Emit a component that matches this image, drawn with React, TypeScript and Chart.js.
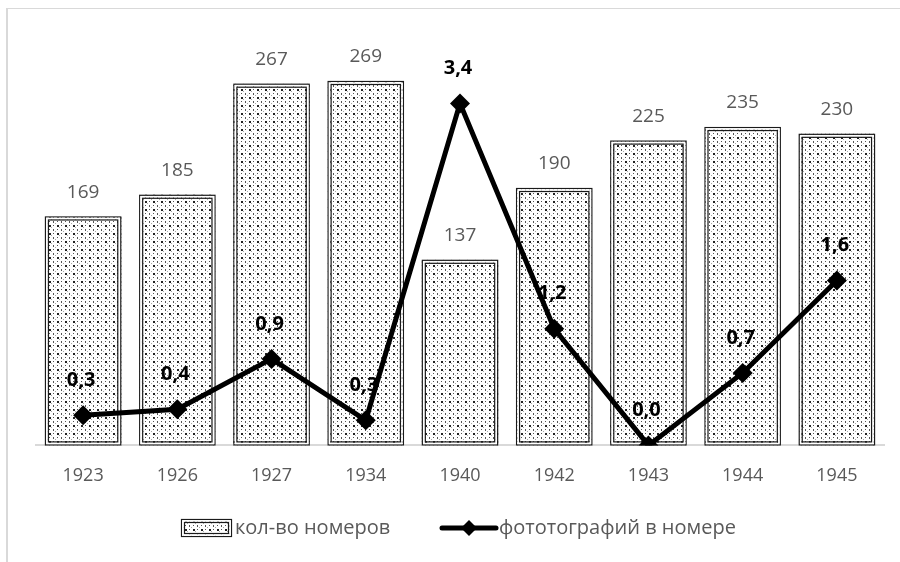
import React, { useEffect, useRef } from "react";
import { Chart, registerables } from "chart.js";

Chart.register(...registerables);

const years = ["1923", "1926", "1927", "1934", "1940", "1942", "1943", "1944", "1945"];
const issues = [169, 185, 267, 269, 137, 190, 225, 235, 230];
const photosPerIssue = [0.3, 0.36, 0.86, 0.25, 3.4, 1.16, 0.0, 0.72, 1.64];
const barLabel = "кол-во номеров";
const lineLabel = "фототографий в номере";

const FONT = "'Open Sans', 'Noto Sans', sans-serif";
const GRAY_TEXT = "#595959";

function makePattern(): CanvasPattern | string {
  const c = document.createElement("canvas");
  c.width = 8;
  c.height = 8;
  const g = c.getContext("2d");
  if (!g) return "#ddd";
  g.fillStyle = "#ffffff";
  g.fillRect(0, 0, 8, 8);
  g.fillStyle = "#222";
  g.fillRect(1, 1, 2, 2);
  g.fillStyle = "#555";
  g.fillRect(5, 5, 1, 2);
  g.fillRect(5, 1, 1, 1);
  g.fillRect(1, 5, 1, 1);
  g.fillStyle = "#aaa";
  g.fillRect(3, 3, 1, 1);
  g.fillRect(7, 7, 1, 1);
  const ctx = document.createElement("canvas").getContext("2d");
  const p = ctx ? ctx.createPattern(c, "repeat") : null;
  return p || "#ddd";
}

function fmt(v: number) {
  return (Math.round(v * 10) / 10).toFixed(1).replace(".", ",");
}

function doubleRect(ctx: CanvasRenderingContext2D, x: number, y: number, w: number, h: number) {
  ctx.save();
  ctx.strokeStyle = "#1a1a1a";
  ctx.lineWidth = 1.2;
  ctx.strokeRect(x + 0.5, y + 0.5, w - 1, h - 1);
  ctx.strokeStyle = "#ffffff";
  ctx.lineWidth = 1.5;
  ctx.strokeRect(x + 2, y + 2, w - 4, h - 4);
  ctx.strokeStyle = "#1a1a1a";
  ctx.lineWidth = 1.2;
  ctx.strokeRect(x + 3.5, y + 3.5, w - 7, h - 7);
  ctx.restore();
}

export default function App() {
  const ref = useRef<HTMLCanvasElement | null>(null);

  useEffect(() => {
    if (!ref.current) return;
    const pattern = makePattern();

    const decor = {
      id: "decor",
      beforeDraw(chart: any) {
        const ctx = chart.ctx;
        ctx.save();
        ctx.fillStyle = "#ffffff";
        ctx.fillRect(0, 0, chart.width, chart.height);
        ctx.fillStyle = "#d9d9d9";
        ctx.fillRect(6, 8, 2, chart.height - 8);
        ctx.fillRect(6, 8, chart.width - 6, 1);
        ctx.restore();
      },
      afterDatasetDraw(chart: any, args: any) {
        if (args.index !== 0) return;
        const ctx = chart.ctx;
        const meta = chart.getDatasetMeta(0);
        meta.data.forEach((bar: any) => {
          const w = bar.width;
          doubleRect(ctx, bar.x - w / 2, bar.y, w, bar.base - bar.y);
        });
      },
      afterDatasetsDraw(chart: any) {
        const ctx = chart.ctx;
        ctx.save();
        ctx.textAlign = "center";
        ctx.textBaseline = "middle";
        const bars = chart.getDatasetMeta(0).data;
        ctx.font = `19px ${FONT}`;
        ctx.fillStyle = GRAY_TEXT;
        bars.forEach((b: any, i: number) => {
          ctx.fillText(String(issues[i]), b.x, b.y - 24);
        });
        const pts = chart.getDatasetMeta(1).data;
        ctx.font = `bold 20px ${FONT}`;
        ctx.fillStyle = "#000";
        pts.forEach((p: any, i: number) => {
          ctx.fillText(fmt(photosPerIssue[i]), p.x - 2, p.y - 35);
        });

        // legend
        const ly = 528;
        const p0: any = pattern;
        ctx.fillStyle = p0;
        ctx.fillRect(181, ly - 9, 51, 18);
        doubleRect(ctx, 181, ly - 9, 51, 18);
        ctx.font = `20px ${FONT}`;
        ctx.fillStyle = GRAY_TEXT;
        ctx.textAlign = "left";
        ctx.fillText(barLabel, 235, ly);
        ctx.strokeStyle = "#000";
        ctx.lineWidth = 5;
        ctx.lineCap = "round";
        ctx.beginPath();
        ctx.moveTo(442, ly);
        ctx.lineTo(496, ly);
        ctx.stroke();
        ctx.fillStyle = "#000";
        ctx.beginPath();
        ctx.moveTo(469, ly - 8);
        ctx.lineTo(477, ly);
        ctx.lineTo(469, ly + 8);
        ctx.lineTo(461, ly);
        ctx.closePath();
        ctx.fill();
        ctx.fillStyle = GRAY_TEXT;
        ctx.fillText(lineLabel, 499, ly);
        ctx.restore();
      },
    };

    const chart = new Chart(ref.current, {
      type: "bar",
      data: {
        labels: years,
        datasets: [
          {
            type: "bar",
            label: barLabel,
            data: issues,
            backgroundColor: pattern as any,
            borderWidth: 0,
            categoryPercentage: 1,
            barPercentage: 0.81,
            yAxisID: "y",
            order: 2,
          },
          {
            type: "line",
            label: lineLabel,
            data: photosPerIssue,
            borderColor: "#000",
            borderWidth: 5,
            pointStyle: "rectRot",
            pointRadius: 10,
            pointBackgroundColor: "#000",
            pointBorderColor: "#000",
            pointBorderWidth: 0,
            tension: 0,
            yAxisID: "y1",
            order: 1,
          } as any,
        ],
      },
      options: {
        responsive: false,
        animation: false,
        devicePixelRatio: 1,
        layout: { padding: { left: 36, right: 16, top: 39, bottom: 55 } },
        plugins: { legend: { display: false }, tooltip: { enabled: false } },
        scales: {
          x: {
            grid: { display: false, drawTicks: false },
            border: { display: true, color: "#d9d9d9", width: 2 },
            ticks: {
              color: GRAY_TEXT,
              font: { family: FONT, size: 18 },
              padding: 20,
              maxRotation: 0,
            },
          },
          y: { display: false, min: 0, max: 300 },
          y1: { display: false, min: 0, max: 4.04, position: "right" },
        },
      },
      plugins: [decor],
    });
    return () => chart.destroy();
  }, []);

  return (
    <div style={{ position: "absolute", left: 0, top: 0, width: 900, height: 562 }}>
      <canvas ref={ref} width={900} height={562} style={{ display: "block" }} />
    </div>
  );
}
